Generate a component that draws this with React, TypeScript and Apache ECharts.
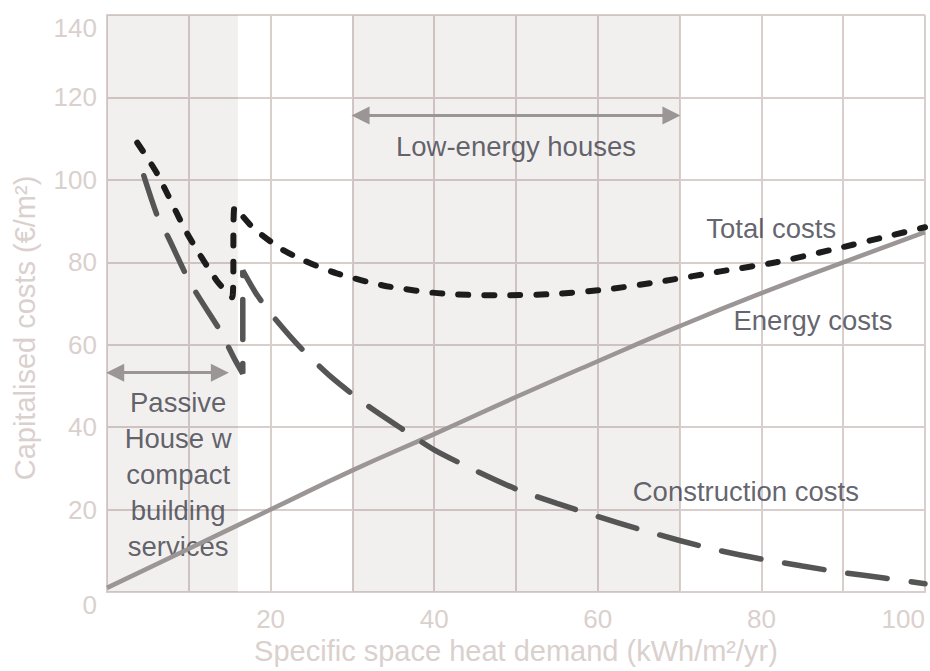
import React, { useEffect, useRef } from "react";
import * as echarts from "echarts";

// ---- data ----
const energyCosts: [number, number][] = [
  [0, 1], [10, 10.5], [20, 20], [30, 29.5], [40, 38.3], [50, 47.3],
  [60, 56], [70, 64.5], [80, 72.5], [90, 80], [100, 87.3],
];
const constructionCosts: [number, number][] = [
  [4.5, 101], [6.2, 91], [7.5, 86], [9.9, 76], [11.4, 71], [13.8, 63.5],
  [15.6, 56.5], [16.6, 53], [16.6, 78], [18.2, 72.5], [20, 67.6],
  [23.6, 59.4], [27.5, 52], [32, 45], [36.5, 39], [40, 34.5], [45, 29.5],
  [50, 25], [55, 21.5], [60, 18.3], [65, 15.3], [70, 12.5], [75, 10],
  [80, 8], [85, 6.3], [90, 4.7], [95, 3.4], [100, 2],
];
const totalCosts: [number, number][] = [
  [3.7, 109], [6.1, 101.6], [9.8, 87], [13.4, 75.6], [15.3, 71.5],
  [15.6, 93.4], [17.8, 88.5], [21.1, 83.5], [24, 80.5], [28.1, 77.3],
  [34.2, 74.2], [41, 72.4], [47.8, 72], [54.6, 72.3], [61.4, 73.5],
  [68.2, 75.5], [75, 77.8], [81.8, 80], [88.5, 83], [95.4, 86.3], [100, 88.5],
];
// shaded ranges on x
const shadedRanges: [number, number][] = [[0, 16], [30, 70]];
// double-headed range arrows: [xFrom, xTo, y]
const rangeArrows: [number, number, number][] = [[1, 13.8, 53.2], [31, 69, 115.6]];
// text annotations: [label, x, y]
const annotations: [string, number, number][] = [
  ["Low-energy houses", 50, 108.2],
  ["Total costs", 81.2, 88.2],
  ["Energy costs", 86.3, 65.8],
  ["Construction costs", 78.1, 24.5],
  ["Passive\nHouse w\ncompact\nbuilding\nservices", 8.7, 28.6],
];
const xTicks = [20, 40, 60, 80, 100];

const FONT = "'Liberation Sans', Arial, Helvetica, sans-serif";
const GRID = "#d8cecc";
const LABEL = "#dad0cd";
const TEXT = "#3c3c48";

export default function App() {
  const ref = useRef<HTMLDivElement>(null);
  useEffect(() => {
    if (!ref.current) return;
    const chart = echarts.init(ref.current, undefined, { renderer: "svg" });
    chart.setOption({
      animation: false,
      grid: { left: 107, top: 15, right: 5, bottom: 79 },
      xAxis: {
        type: "value",
        min: 0,
        max: 100,
        interval: 10,
        name: "Specific space heat demand (kWh/m²/yr)",
        nameLocation: "middle",
        nameGap: 44,
        nameTextStyle: { color: LABEL, fontSize: 29, fontFamily: FONT },
        axisLine: { show: true, lineStyle: { color: GRID, width: 2 } },
        axisTick: { show: false },
        splitLine: { show: true, lineStyle: { color: GRID, width: 2 } },
        axisLabel: {
          color: LABEL,
          fontSize: 26,
          fontFamily: FONT,
          margin: 14,
          alignMaxLabel: "right",
          formatter: (v: number) => (xTicks.includes(v) ? String(v) : ""),
        },
      },
      yAxis: {
        type: "value",
        min: 0,
        max: 140,
        interval: 20,
        name: "Capitalised costs (€/m²)",
        nameLocation: "middle",
        nameGap: 68,
        nameTextStyle: { color: LABEL, fontSize: 29, fontFamily: FONT, padding: [0, 49, 0, 0] },
        axisLine: { show: true, lineStyle: { color: GRID, width: 2 } },
        axisTick: { show: false },
        splitLine: { show: true, lineStyle: { color: GRID, width: 2 } },
        axisLabel: {
          color: LABEL,
          fontSize: 26,
          fontFamily: FONT,
          margin: 10,
          verticalAlignMaxLabel: "top",
          verticalAlignMinLabel: "top",
        },
      },
      series: [
        {
          type: "line",
          name: "shading",
          data: [],
          silent: true,
          markArea: {
            silent: true,
            itemStyle: { color: "rgba(115,100,90,0.095)" },
            data: shadedRanges.map(([a, b]) => [{ xAxis: a }, { xAxis: b }]),
          },
          markLine: {
            silent: true,
            symbol: ["triangle", "triangle"],
            symbolSize: 18,
            label: { show: false },
            lineStyle: { color: "#9b9595", width: 3, type: "solid" },
            data: rangeArrows.map(([a, b, y]) => [
              { coord: [a, y] },
              { coord: [b, y] },
            ]),
          },
        },
        {
          type: "line",
          name: "Energy costs",
          data: energyCosts,
          smooth: true,
          symbol: "none",
          lineStyle: { color: "#9b9595", width: 4.5 },
        },
        {
          type: "line",
          name: "Construction costs",
          data: constructionCosts,
          smooth: 0.25,
          symbol: "none",
          lineStyle: { color: "#555555", width: 5.5, type: [40, 24], cap: "round" },
        },
        {
          type: "line",
          name: "Total costs",
          data: totalCosts,
          smooth: 0.25,
          symbol: "none",
          lineStyle: { color: "#1c1c1c", width: 6, type: [10, 16], cap: "round" },
        },
        {
          type: "scatter",
          name: "annotations",
          symbolSize: 0,
          silent: true,
          data: annotations.map(([t, x, y]) => ({ name: t, value: [x, y] })),
          label: {
            show: true,
            position: "inside",
            formatter: "{b}",
            color: TEXT,
            fontSize: 27.5,
            fontFamily: FONT,
            lineHeight: 36,
            align: "center",
          },
        },
      ],
    });
    return () => chart.dispose();
  }, []);
  return (
    <div
      ref={ref}
      style={{ position: "fixed", left: 0, top: 0, width: 930, height: 671, background: "#fff" }}
    />
  );
}
